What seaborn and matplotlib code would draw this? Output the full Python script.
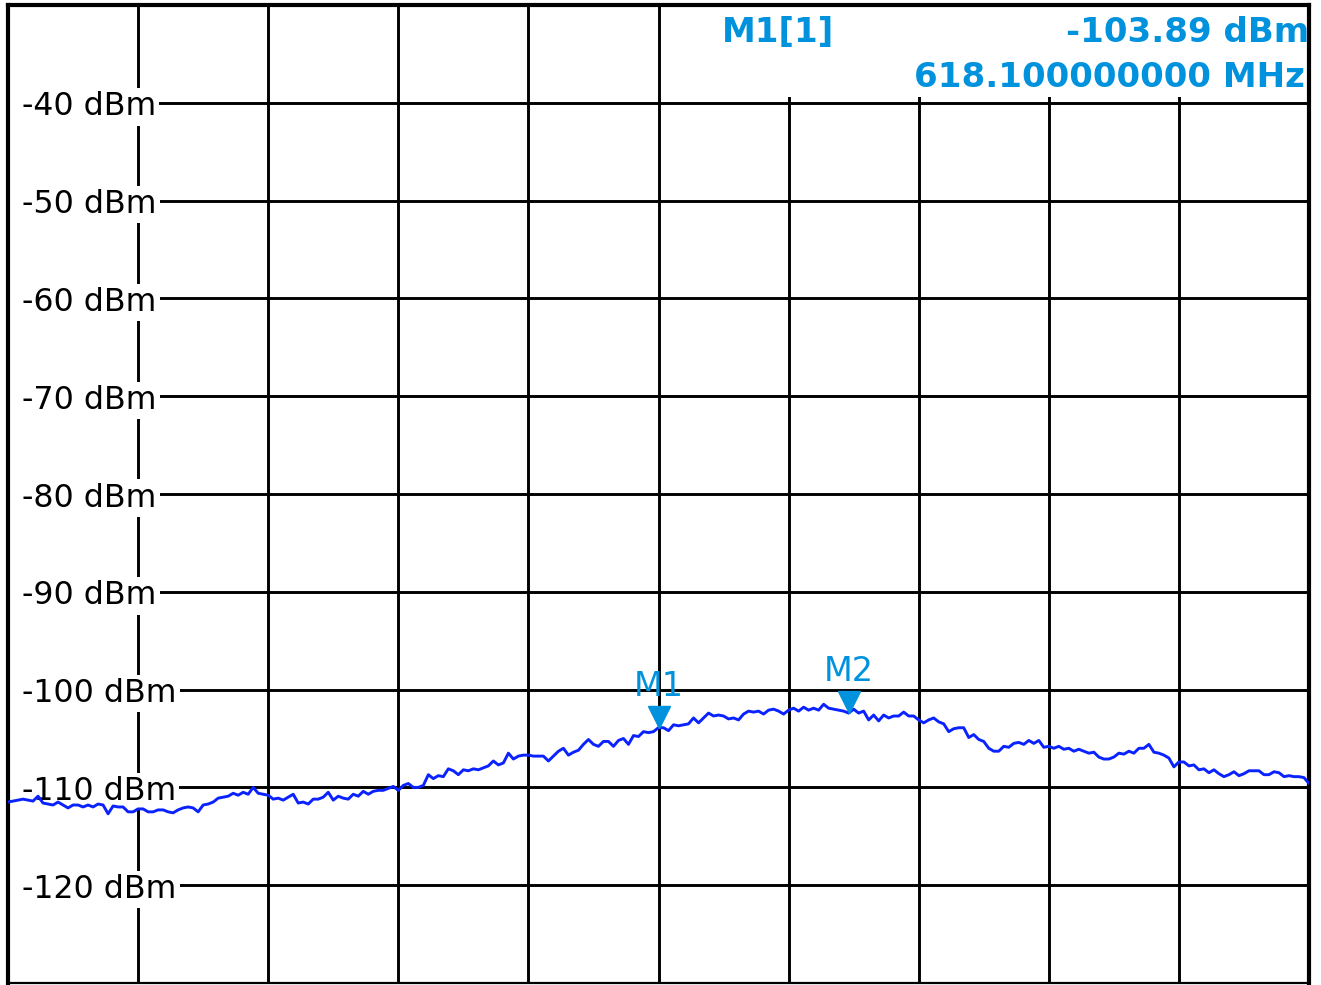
import numpy as np
import pandas as pd
import matplotlib
matplotlib.use("Agg")
import matplotlib.pyplot as plt
from matplotlib.patches import Rectangle
import matplotlib.transforms as mtransforms
import seaborn as sns

# ---------------- data ----------------
start_mhz = 613.1
stop_mhz = 623.1
ref_top_dbm = -30
ref_bottom_dbm = -130

level_dbm = [
    -111.5, -111.4, -111.3, -111.2, -111.3, -111.4, -110.9, -111.6, -111.7, -111.8,
    -111.5, -111.8, -112.1, -111.8, -111.8, -112.0, -111.8, -112.0, -111.7, -111.8,
    -112.7, -111.9, -112.0, -112.0, -112.5, -112.5, -112.2, -112.2, -112.5, -112.5,
    -112.3, -112.3, -112.5, -112.6, -112.3, -112.1, -112.0, -112.1, -112.5, -111.8,
    -111.7, -111.5, -111.1, -111.0, -110.9, -110.6, -110.8, -110.5, -110.7, -110.0,
    -110.6, -110.7, -110.8, -111.2, -111.1, -111.3, -111.0, -110.7, -111.6, -111.5,
    -111.7, -111.2, -111.2, -111.0, -110.5, -111.3, -110.9, -111.1, -111.2, -110.7,
    -110.9, -110.4, -110.7, -110.4, -110.3, -110.3, -110.1, -109.9, -110.3, -109.8,
    -109.6, -110.0, -110.0, -109.8, -108.7, -109.1, -108.8, -108.9, -108.1, -108.3,
    -108.7, -108.2, -108.3, -108.1, -108.2, -108.0, -107.8, -107.3, -107.7, -107.5,
    -106.5, -107.1, -106.8, -106.7, -106.7, -106.8, -106.8, -106.8, -107.3, -106.8,
    -106.3, -106.0, -106.7, -106.4, -106.2, -105.6, -105.1, -105.6, -105.8, -105.3,
    -105.3, -105.8, -105.2, -105.0, -105.6, -104.7, -104.8, -104.3, -104.4, -104.3,
    -103.89, -103.9, -104.2, -103.6, -103.7, -103.6, -103.5, -102.9, -103.4, -102.9,
    -102.4, -102.7, -102.6, -102.7, -103.0, -102.9, -103.1, -102.5, -102.2, -102.3,
    -102.2, -102.5, -102.1, -102.0, -102.2, -102.5, -102.1, -101.9, -102.2, -101.8,
    -102.1, -101.9, -102.1, -101.5, -101.9, -102.0, -102.1, -102.2, -102.4, -102.0,
    -102.4, -102.2, -103.1, -102.6, -103.2, -102.6, -102.9, -102.7, -102.7, -102.3,
    -102.7, -102.7, -103.1, -103.4, -103.1, -102.9, -103.3, -103.5, -104.3, -104.0,
    -103.9, -103.9, -104.9, -104.6, -105.1, -105.3, -106.0, -106.3, -106.3, -105.8,
    -105.9, -105.5, -105.4, -105.6, -105.2, -105.5, -105.2, -105.9, -105.8, -106.0,
    -105.8, -106.1, -106.0, -106.3, -106.1, -106.3, -106.5, -106.4, -106.9, -107.1,
    -107.1, -106.9, -106.5, -106.6, -106.3, -106.5, -106.0, -106.0, -105.6, -106.4,
    -106.5, -106.7, -107.0, -107.9, -107.4, -107.4, -107.8, -107.7, -108.2, -108.1,
    -108.5, -108.2, -108.6, -108.9, -108.7, -108.4, -108.8, -108.6, -108.3, -108.3,
    -108.3, -108.7, -108.7, -108.4, -108.5, -108.9, -108.8, -108.9, -108.9, -109.0,
    -109.6,
]
freq_mhz = np.linspace(start_mhz, stop_mhz, len(level_dbm))

y_label_values = [-40, -50, -60, -70, -80, -90, -100, -110, -120]
y_label_texts = ["-40 dBm", "-50 dBm", "-60 dBm", "-70 dBm", "-80 dBm",
                 "-90 dBm", "-100 dBm", "-110 dBm", "-120 dBm"]

marker_names = ["M1", "M2"]
marker_index = [130, 168]
readout_title = "M1[1]"
readout_level = "-103.89 dBm"
readout_freq = "618.100000000 MHz"

# ---------------- style ----------------
sns.set_style("white")
plt.rcParams['font.family'] = ['DejaVu Sans']

W, H = 1321, 985
fig = plt.figure(figsize=(W / 100, H / 100), dpi=100)
fig.patch.set_facecolor("white")
ax = fig.add_axes([8 / W, 2 / H, 1301 / W, 978 / H])

trace_color = "#0A22FF"
marker_color = "#0092DD"

df = pd.DataFrame({"freq": freq_mhz, "level": level_dbm})
sns.lineplot(data=df, x="freq", y="level", ax=ax, color=trace_color,
             linewidth=2.1, zorder=5, estimator=None, sort=False)

ax.set_xlim(start_mhz, stop_mhz)
ax.set_ylim(ref_bottom_dbm, ref_top_dbm)
ax.set_xticks(np.linspace(start_mhz, stop_mhz, 11))
ax.set_yticks(np.arange(ref_bottom_dbm, ref_top_dbm + 1, 10))
ax.tick_params(length=0, labelbottom=False, labelleft=False)
ax.set_xlabel("")
ax.set_ylabel("")
ax.grid(True, color="black", linewidth=2.1)
ax.set_axisbelow(True)

for side in ["left", "top", "right"]:
    ax.spines[side].set_linewidth(3.0)
    ax.spines[side].set_color("black")
ax.spines["bottom"].set_linewidth(1.6)
ax.spines["bottom"].set_color("black")

# white strip at far left (grid lines start after the labels)
ax.add_patch(Rectangle((0, 0), 0.011, 1, transform=ax.transAxes,
                       facecolor="white", edgecolor="none", zorder=2))
# marker readout box
ax.add_patch(Rectangle((0.5027, 0.906), 0.4973, 0.094, transform=ax.transAxes,
                       facecolor="white", edgecolor="none", zorder=2))

# level labels
ytrans = mtransforms.blended_transform_factory(ax.transAxes, ax.transData)
ytrans = ytrans + mtransforms.ScaledTranslation(0, -3 / 72, fig.dpi_scale_trans)
for v, t in zip(y_label_values, y_label_texts):
    ax.text(0.0108, v, t, transform=ytrans, ha="left", va="center",
            fontsize=22.8, color="black", zorder=3,
            bbox=dict(facecolor="white", edgecolor="none",
                      boxstyle="square,pad=0.1"))

# markers
ms = 16
for name, idx in zip(marker_names, marker_index):
    fx, fy = freq_mhz[idx], level_dbm[idx]
    tr = mtransforms.offset_copy(ax.transData, fig=fig, x=0, y=ms / 2, units="points")
    ax.plot([fx], [fy], marker="v", markersize=ms, color=marker_color,
            linestyle="none", transform=tr, zorder=6)
    ax.annotate(name, xy=(fx, fy), xytext=(0, ms + 7), textcoords="offset points",
                ha="center", va="baseline", fontsize=24, color=marker_color, zorder=6)

# readout text
ax.text((722 - 8) / 1301, (983 - 42) / 978, readout_title, transform=ax.transAxes,
        ha="left", va="baseline", fontsize=24.5, fontweight="bold",
        color=marker_color, zorder=6)
ax.text(1.0, (983 - 42) / 978, readout_level, transform=ax.transAxes,
        ha="right", va="baseline", fontsize=24.5, fontweight="bold",
        color=marker_color, zorder=6)
ax.text((1305 - 8) / 1301, (983 - 87) / 978, readout_freq, transform=ax.transAxes,
        ha="right", va="baseline", fontsize=24.5, fontweight="bold",
        color=marker_color, zorder=6)

fig.savefig("out.png", dpi=100, facecolor="white")
